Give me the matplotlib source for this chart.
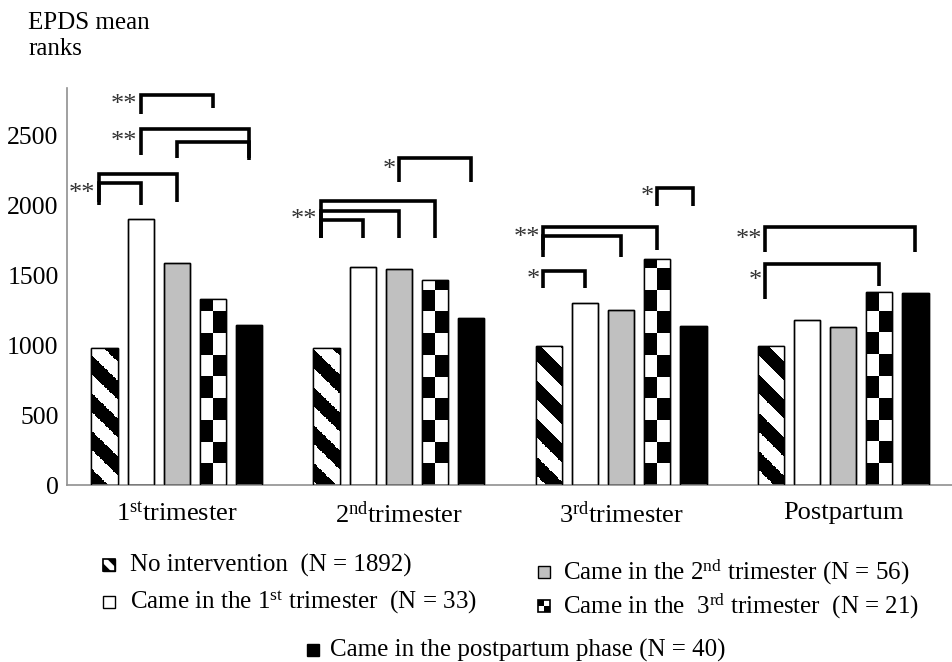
import numpy as np
import matplotlib.pyplot as plt
from matplotlib.patches import Rectangle, Polygon

plt.rcParams['font.family'] = ['Liberation Serif', 'DejaVu Serif']
plt.rcParams['mathtext.fontset'] = 'custom'
plt.rcParams['mathtext.rm'] = 'Liberation Serif'
plt.rcParams['mathtext.it'] = 'Liberation Serif:italic'

# data
groups = ['1$^{\\mathrm{st}}$trimester', '2$^{\\mathrm{nd}}$trimester',
          '3$^{\\mathrm{rd}}$trimester', 'Postpartum']
labels = ['No intervention  (N = 1892)',
          'Came in the 1$^{\\mathrm{st}}$ trimester  (N = 33)',
          'Came in the 2$^{\\mathrm{nd}}$ trimester (N = 56)',
          'Came in the  3$^{\\mathrm{rd}}$ trimester  (N = 21)',
          'Came in the postpartum phase (N = 40)']
no_intervention = [978, 978, 993, 993]
came_1st = [1900, 1557, 1300, 1179]
came_2nd = [1583, 1543, 1250, 1129]
came_3rd = [1328, 1464, 1614, 1379]
came_pp = [1143, 1193, 1136, 1371]
yticks = [0, 500, 1000, 1500, 2000, 2500]

# significance brackets: group, bar a, bar b, top, leg end a, leg end b, stars
brackets = [
    (0, 0, 1, 2157, 2000, 2000, '**'),
    (0, 0, 2, 2221, 2021, 2021, ''),
    (0, 1, 4, 2543, 2357, 2321, '**'),
    (0, 2, 4, 2450, 2336, 2336, ''),
    (0, 1, 3, 2786, 2650, 2693, '**'),
    (1, 2, 4, 2336, 2164, 2164, '*'),
    (1, 0, 1, 1893, 1764, 1764, ''),
    (1, 0, 2, 1957, 1764, 1764, ''),
    (1, 0, 3, 2029, 1764, 1764, '**'),
    (2, 3, 4, 2121, 1993, 1993, '*'),
    (2, 0, 3, 1843, 1679, 1679, '**'),
    (2, 0, 2, 1779, 1629, 1629, ''),
    (2, 0, 1, 1529, 1407, 1407, '*'),
    (3, 0, 4, 1843, 1664, 1664, '**'),
    (3, 0, 3, 1579, 1329, 1421, '*'),
]

W, H = 953, 662
fig = plt.figure(figsize=(W / 100, H / 100), dpi=100)
ax = fig.add_axes([67 / W, (H - 485) / H, (W - 67) / W, (485 - 88) / H])

series = [no_intervention, came_1st, came_2nd, came_3rd, came_pp]
faces = ['white', 'white', '#c0c0c0', 'white', 'black']
step, width = 0.163, 0.118
xg = np.arange(len(groups))

ax.set_xlim(-0.495, 3.495)
ax.set_ylim(0, 2836)

bar_x = {}
for k, vals in enumerate(series):
    xs = xg + (k - 2) * step
    bars = ax.bar(xs, vals, width, color=faces[k], edgecolor='black',
                  linewidth=1, zorder=2)
    for g, b in enumerate(bars):
        bar_x[(g, k)] = xs[g]
        x0, x1, h = b.get_x(), b.get_x() + b.get_width(), b.get_height()
        if k == 0:
            # thick diagonal stripes, computed in pixel space
            nx, ny = 60, int(h / 3)
            X, Y = np.meshgrid(np.linspace(x0, x1, nx), np.linspace(0, h, ny))
            p = ax.transData.transform(np.column_stack([X.ravel(), Y.ravel()]))
            v = ((p[:, 0] + p[:, 1]) % 38.0) < 19.0
            img = np.where(v, 0.0, 1.0).reshape(ny, nx)
            im = ax.imshow(img, cmap='gray', vmin=0, vmax=1, origin='lower',
                           extent=(x0, x1, 0, h), aspect='auto',
                           interpolation='nearest', zorder=2.2)
            im.set_clip_path(b)
        elif k == 3:
            cell = 155.0
            nr = int(np.ceil(h / cell))
            r, c = np.mgrid[0:nr, 0:2]
            img = ((r + c) % 2).astype(float)
            im = ax.imshow(img, cmap='gray', vmin=0, vmax=1, origin='lower',
                           extent=(x0, x1, 0, nr * cell), aspect='auto',
                           interpolation='nearest', zorder=2.2)
            im.set_clip_path(b)
    ax.bar(xs, vals, width, fill=False, edgecolor='black', linewidth=1,
           zorder=3)

ax.set_xlim(-0.495, 3.495)
ax.set_ylim(0, 2836)

for g, a, b, top, ya, yb, stars in brackets:
    xa = bar_x[(g, a)] - (0.025 if a == 0 else 0)
    xb = bar_x[(g, b)]
    ax.plot([xa, xa, xb, xb], [ya, top, top, yb], color='black', lw=2.6,
            solid_joinstyle='miter', solid_capstyle='butt', clip_on=False,
            zorder=4)
    if stars:
        ax.text(xa - 0.015, (top + ya) / 2, stars, ha='right', va='center',
                fontsize=19, color='#333333')

for s in ['top', 'right']:
    ax.spines[s].set_visible(False)
for s in ['left', 'bottom']:
    ax.spines[s].set_color('#909090')
    ax.spines[s].set_linewidth(1.2)
ax.set_yticks(yticks)
ax.set_yticklabels([str(t) for t in yticks], fontsize=18.5)
ax.set_xticks(xg)
ax.set_xticklabels(groups, fontsize=19)
ax.tick_params(axis='both', length=0, pad=6)
ax.tick_params(axis='x', pad=12)

fig.text(28 / W, 1 - 12 / H, 'EPDS mean\nranks', ha='left', va='top',
         fontsize=18, linespacing=1.25)

# legend, drawn as icons plus text
def fx(px):
    return px / W


def fy(py):
    return 1 - py / H


def legend_item(cx, cy, kind, text, tx):
    s = 12
    x0, y0 = fx(cx - s / 2), fy(cy + s / 2)
    w, h = s / W, s / H
    tr = fig.transFigure
    if kind == 0:
        fig.add_artist(Rectangle((x0, y0), w, h, facecolor='black',
                                 edgecolor='black', lw=1, transform=tr))
        band = [(x0, y0 + h), (x0 + 0.35 * w, y0 + h), (x0 + w, y0 + 0.35 * h),
                (x0 + w, y0), (x0 + 0.65 * w, y0), (x0, y0 + 0.65 * h)]
        fig.add_artist(Polygon(band, closed=True, facecolor='white', lw=0,
                               transform=tr))
        fig.add_artist(Rectangle((x0, y0), w, h, fill=False,
                                 edgecolor='black', lw=1.2, transform=tr))
    elif kind == 3:
        fig.add_artist(Rectangle((x0, y0), w, h, facecolor='white',
                                 edgecolor='black', lw=1.2, transform=tr))
        fig.add_artist(Rectangle((x0, y0 + h / 2), w / 2, h / 2,
                                 facecolor='black', lw=0, transform=tr))
        fig.add_artist(Rectangle((x0 + w / 2, y0), w / 2, h / 2,
                                 facecolor='black', lw=0, transform=tr))
    else:
        fig.add_artist(Rectangle((x0, y0), w, h, facecolor=faces[kind],
                                 edgecolor='black', lw=1, transform=tr))
    fig.text(fx(tx), fy(cy), text, ha='left', va='center', fontsize=18)


legend_item(109, 565, 0, labels[0], 130)
legend_item(109, 602, 1, labels[1], 130)
legend_item(544, 572, 2, labels[2], 563)
legend_item(544, 606, 3, labels[3], 563)
legend_item(313, 650, 4, labels[4], 330)

fig.savefig('out.png', dpi=100)
